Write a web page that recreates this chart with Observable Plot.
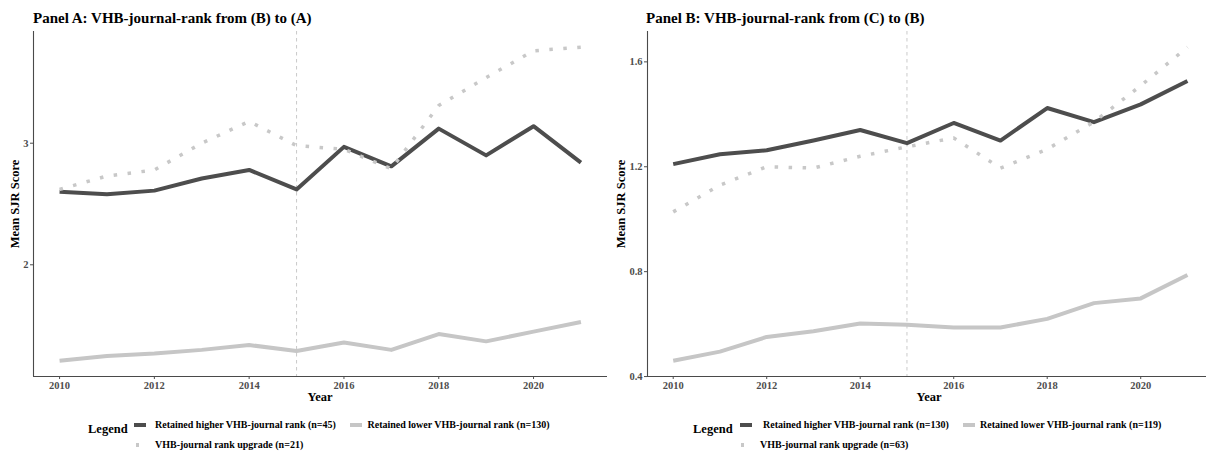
<!DOCTYPE html>
<html>
<head>
<meta charset="utf-8">
<script src="https://cdn.jsdelivr.net/npm/d3@7"></script>
<script src="https://cdn.jsdelivr.net/npm/@observablehq/plot@0.6"></script>
<style>
  html, body { margin: 0; padding: 0; background: #fff; overflow: hidden; }
  #wrap { position: relative; width: 1206px; height: 454px; overflow: hidden;
          font-family: "Liberation Serif", "Times New Roman", serif; font-weight: bold; color: #000; }
  .t { position: absolute; white-space: nowrap; line-height: 1; }
  .sw { position: absolute; }
  svg { position: absolute; overflow: hidden; }
</style>
</head>
<body>
<div id="wrap"></div>
<script>
// ---------------- data ----------------
const years = [2010, 2011, 2012, 2013, 2014, 2015, 2016, 2017, 2018, 2019, 2020, 2021];
const breakYear = 2015;
const xTicks = [2010, 2012, 2014, 2016, 2018, 2020];

// Panel A: VHB-journal-rank from (B) to (A)
const aHigher  = [2.60, 2.58, 2.61, 2.71, 2.78, 2.62, 2.97, 2.81, 3.12, 2.90, 3.14, 2.84];
const aLower   = [1.21, 1.25, 1.27, 1.30, 1.34, 1.29, 1.36, 1.30, 1.43, 1.37, 1.45, 1.53];
const aUpgrade = [2.62, 2.73, 2.78, 3.00, 3.18, 2.98, 2.95, 2.79, 3.31, 3.54, 3.76, 3.79];
const aYTicks  = [2, 3];

// Panel B: VHB-journal-rank from (C) to (B)
const bHigher  = [1.21, 1.248, 1.263, 1.30, 1.34, 1.29, 1.367, 1.30, 1.424, 1.37, 1.438, 1.527];
const bLower   = [0.46, 0.495, 0.551, 0.573, 0.602, 0.598, 0.587, 0.587, 0.62, 0.68, 0.698, 0.787];
const bUpgrade = [1.028, 1.13, 1.20, 1.195, 1.24, 1.276, 1.31, 1.195, 1.267, 1.371, 1.509, 1.656];
const bYTicks  = [0.4, 0.8, 1.2, 1.6];

const titles = ["Panel A: VHB-journal-rank from (B) to (A)", "Panel B: VHB-journal-rank from (C) to (B)"];
const legendA = ["Retained higher VHB-journal rank (n=45)", "Retained lower VHB-journal rank (n=130)", "VHB-journal rank upgrade (n=21)"];
const legendB = ["Retained higher VHB-journal rank (n=130)", "Retained lower VHB-journal rank (n=119)", "VHB-journal rank upgrade (n=63)"];

// ---------------- styling ----------------
const DARK = "#4d4d4d", LIGHT = "#c6c6c6", DOT = "#c8c8c8", AXIS = "#4a4a4a";
const wrap = document.getElementById("wrap");

function expand(vals) {
  const [lo, hi] = d3.extent(vals);
  const p = (hi - lo) * 0.05;
  return [lo - p, hi + p];
}

function panel({left, width, marginLeft, marginRight, xRange, higher, lower, upgrade, yTicks, yFmt}) {
  const top = 28, height = 382, marginTop = 3, marginBottom = 34;
  const rows = years.map((year, i) => ({year, higher: higher[i], lower: lower[i], upgrade: upgrade[i]}));
  const xDom = [years[0] - 0.55, years[years.length - 1] + 0.55];
  const yDom = expand([...higher, ...lower, ...upgrade]);
  const svg = Plot.plot({
    width, height, marginTop, marginBottom, marginLeft, marginRight,
    style: {fontFamily: '"Liberation Serif", serif', fontWeight: "bold", fontSize: "10.5px", background: "transparent"},
    x: {domain: xDom, range: xRange},
    y: {domain: yDom, range: [height - marginBottom, marginTop]},
    marks: [
      Plot.ruleX([breakYear], {stroke: "#bdbdbd", strokeWidth: 0.8, strokeDasharray: "3.5,3.5"}),
      Plot.line(rows, {x: "year", y: "higher", stroke: DARK, strokeWidth: 4, strokeLinecap: "butt", strokeLinejoin: "round"}),
      Plot.line(rows, {x: "year", y: "lower", stroke: LIGHT, strokeWidth: 4, strokeLinecap: "butt", strokeLinejoin: "round"}),
      Plot.line(rows, {x: "year", y: "upgrade", stroke: DOT, strokeWidth: 3.5, strokeDasharray: "3.5,10.5", strokeLinecap: "butt"}),
      Plot.ruleX([xDom[0]], {stroke: AXIS, strokeWidth: 1.1}),
      Plot.ruleY([yDom[0]], {stroke: AXIS, strokeWidth: 1.1}),
      Plot.axisX({ticks: xTicks, tickFormat: d => String(d), tickSize: 3, tickPadding: 2, color: "#4d4d4d", fontSize: 10.5, fontWeight: "bold", label: null}),
      Plot.axisY({ticks: yTicks, tickFormat: yFmt, tickSize: 3, tickPadding: 2, color: "#4d4d4d", fontSize: 10.5, fontWeight: "bold", label: null})
    ]
  });
  svg.style.left = left + "px";
  svg.style.top = top + "px";
  wrap.appendChild(svg);
}

function text(str, x, cy, size, extra = "") {
  const d = document.createElement("div");
  d.className = "t";
  d.textContent = str;
  d.style.cssText = `left:${x}px;top:${cy}px;font-size:${size}px;transform:translateY(-50%);${extra}`;
  wrap.appendChild(d);
  return d;
}
function swatch(x, cy, w, h, color) {
  const d = document.createElement("div");
  d.className = "sw";
  d.style.cssText = `left:${x}px;top:${cy - h / 2}px;width:${w}px;height:${h}px;background:${color};`;
  wrap.appendChild(d);
}

// Panel A
panel({left: 0, width: 610, marginLeft: 33, marginRight: 3, xRange: [33, 606.5],
       higher: aHigher, lower: aLower, upgrade: aUpgrade, yTicks: aYTicks, yFmt: d => String(d)});
// Panel B
panel({left: 603, width: 603, marginLeft: 44, marginRight: 0, xRange: [44, 44 + 12.1 * 46.75],
       higher: bHigher, lower: bLower, upgrade: bUpgrade, yTicks: bYTicks, yFmt: d3.format(".1f")});

// Titles
text(titles[0], 33, 17.7, 15);
text(titles[1], 646, 17.7, 15);

// Axis titles
text("Year", 320, 396.7, 12.5, "transform:translate(-50%,-50%);");
text("Year", 929, 396.7, 12.5, "transform:translate(-50%,-50%);");
text("Mean SJR Score", 15, 203.5, 12.5, "transform:translate(-50%,-50%) rotate(-90deg);");
text("Mean SJR Score", 621, 203.5, 12.5, "transform:translate(-50%,-50%) rotate(-90deg);");

// Legend A
text("Legend", 88, 429, 12.5);
swatch(134, 425, 12, 3.5, DARK);
text(legendA[0], 155, 425, 10);
swatch(350, 425, 12, 3.5, LIGHT);
text(legendA[1], 367.5, 425, 10);
swatch(135.5, 445, 3.5, 3.5, DOT);
text(legendA[2], 155, 445, 10);

// Legend B
text("Legend", 693, 429, 12.5);
swatch(740, 425, 12, 3.5, DARK);
text(legendB[0], 763, 425, 10);
swatch(963, 425, 12, 3.5, LIGHT);
text(legendB[1], 980, 425, 10);
swatch(740.5, 445, 3.5, 3.5, DOT);
text(legendB[2], 760, 445, 10);
</script>
</body>
</html>
